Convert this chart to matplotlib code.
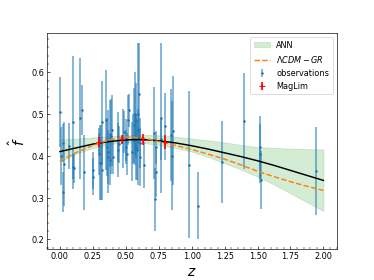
import numpy as np
import matplotlib
matplotlib.use("Agg")
import matplotlib.pyplot as plt

# observations: z, f, sigma
z_obs = [0.00, 0.01, 0.02, 0.025, 0.03, 0.068, 0.10, 0.10, 0.105, 0.151, 0.171, 0.18,
         0.252, 0.252, 0.30, 0.30, 0.305, 0.315, 0.32, 0.32, 0.353, 0.358, 0.363, 0.368,
         0.378, 0.383, 0.39, 0.398, 0.40, 0.438, 0.438, 0.446, 0.478, 0.489, 0.499, 0.504,
         0.509, 0.516, 0.524, 0.547, 0.554, 0.559, 0.569, 0.571, 0.574, 0.579, 0.584, 0.589,
         0.594, 0.60, 0.605, 0.61, 0.64, 0.715, 0.723, 0.726, 0.73, 0.768, 0.77, 0.80,
         0.846, 0.854, 0.859, 0.977, 1.05, 1.229, 1.398, 1.516, 1.52, 1.524, 1.94]
f_obs = [0.505, 0.400, 0.314, 0.430, 0.380, 0.423, 0.480, 0.374, 0.370, 0.490, 0.510, 0.360,
         0.365, 0.350, 0.405, 0.437, 0.383, 0.383, 0.480, 0.365, 0.485, 0.421, 0.397, 0.410,
         0.453, 0.390, 0.447, 0.461, 0.397, 0.445, 0.413, 0.427, 0.441, 0.457, 0.421, 0.437,
         0.405, 0.485, 0.509, 0.410, 0.441, 0.473, 0.501, 0.437, 0.421, 0.485, 0.413, 0.461,
         0.500, 0.549, 0.397, 0.430, 0.379, 0.455, 0.296, 0.362, 0.420, 0.490, 0.441, 0.471,
         0.450, 0.400, 0.460, 0.379, 0.280, 0.385, 0.483, 0.420, 0.405, 0.342, 0.364]
err_obs = [0.084, 0.070, 0.048, 0.045, 0.100, 0.055, 0.160, 0.030, 0.035, 0.145, 0.060, 0.090,
           0.045, 0.045, 0.050, 0.030, 0.090, 0.090, 0.100, 0.070, 0.120, 0.070, 0.065, 0.100,
           0.080, 0.060, 0.090, 0.085, 0.040, 0.060, 0.065, 0.045, 0.070, 0.050, 0.040, 0.050,
           0.050, 0.060, 0.040, 0.070, 0.060, 0.090, 0.100, 0.060, 0.080, 0.090, 0.070, 0.050,
           0.170, 0.120, 0.070, 0.060, 0.055, 0.110, 0.075, 0.060, 0.040, 0.180, 0.050, 0.080,
           0.110, 0.130, 0.130, 0.175, 0.080, 0.098, 0.115, 0.075, 0.070, 0.070, 0.105]

# MagLim
z_ml = [0.30, 0.47, 0.63, 0.80]
f_ml = [0.432, 0.439, 0.438, 0.433]
err_ml = [0.012, 0.010, 0.013, 0.016]

# ANN reconstruction and LCDM curve
z_grid = [0.0, 0.125, 0.25, 0.375, 0.5, 0.625, 0.75, 0.875, 1.0, 1.125, 1.25, 1.375,
          1.5, 1.625, 1.75, 1.875, 2.0]
f_ann = [0.410, 0.419, 0.428, 0.434, 0.438, 0.439, 0.436, 0.431, 0.424, 0.416, 0.407,
         0.398, 0.388, 0.377, 0.365, 0.353, 0.341]
f_ann_hi = [0.439, 0.441, 0.444, 0.447, 0.449, 0.450, 0.449, 0.446, 0.441, 0.437, 0.432,
            0.426, 0.421, 0.419, 0.417, 0.416, 0.415]
f_ann_lo = [0.386, 0.405, 0.419, 0.428, 0.432, 0.431, 0.426, 0.419, 0.410, 0.397, 0.382,
            0.367, 0.350, 0.331, 0.310, 0.289, 0.268]
f_lcdm = [0.387, 0.408, 0.425, 0.438, 0.445, 0.443, 0.434, 0.425, 0.415, 0.404, 0.392,
          0.378, 0.363, 0.350, 0.338, 0.327, 0.317]

fig, ax = plt.subplots(figsize=(6.4, 4.8), dpi=58.4375)

ax.fill_between(z_grid, f_ann_lo, f_ann_hi, color='tab:green', alpha=0.2, label='ANN')
ax.plot(z_grid, f_lcdm, '--', color='tab:orange', lw=1.8, label=r'$\Lambda CDM - GR$', zorder=4)
ax.plot(z_grid, f_ann, color='black', lw=1.8, zorder=3)
ax.errorbar(z_obs, f_obs, yerr=err_obs, fmt='.', color='tab:blue', ms=4,
            elinewidth=2, ecolor=(0.12, 0.47, 0.71, 0.65), label='observations')
ax.errorbar(z_ml, f_ml, yerr=err_ml, fmt='+', color='red', ms=7, mew=1.2,
            elinewidth=2, label='MagLim', zorder=5)

ax.set_xlabel(r'$z$', fontsize=17)
ax.set_ylabel(r'$\hat{f}$', fontsize=17)
ax.set_xticks(np.arange(0, 2.01, 0.25))
ax.minorticks_on()
ax.tick_params(which='both', direction='in')
ax.legend(loc='upper right', fontsize=10)

fig.savefig('out.png', dpi=58.4375)
